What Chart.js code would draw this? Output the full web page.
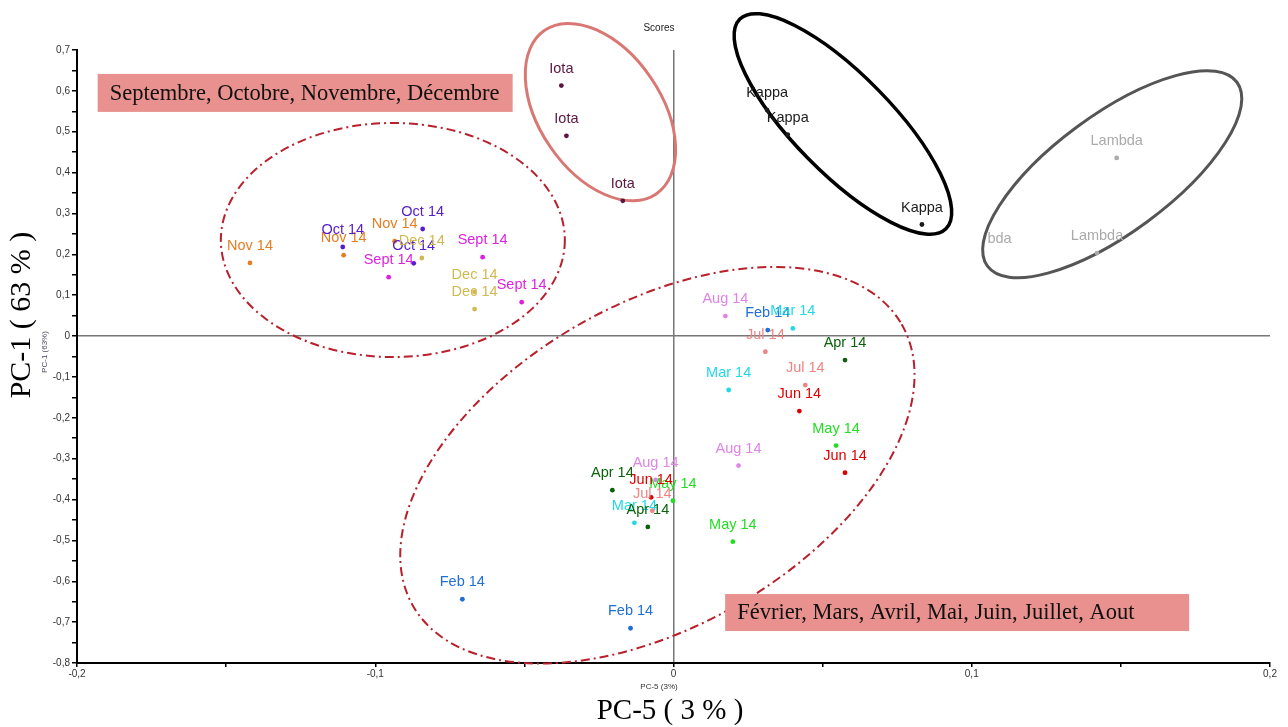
<!DOCTYPE html>
<html>
<head>
<meta charset="utf-8">
<script src="https://cdn.jsdelivr.net/npm/chart.js@4.4.1/dist/chart.umd.min.js"></script>
<style>
  body { margin: 0; background: #fff; }
  #graf { display: block; }
</style>
</head>
<body>
<canvas id="graf" width="1288" height="727"></canvas>
<script>
// scores PC-5 (x) / PC-1 (y)
const septX = [-0.0955, -0.0640, -0.0509];
const septY = [0.144, 0.193, 0.083];
const octX = [-0.1109, -0.0841, -0.0871];
const octY = [0.218, 0.262, 0.178];
const novX = [-0.142, -0.1106, -0.0935];
const novY = [0.179, 0.198, 0.232];
const decX = [-0.0844, -0.0667, -0.0667];
const decY = [0.191, 0.108, 0.066];

const febX = [0.0316, -0.0708, -0.0144];
const febY = [0.0147, -0.644, -0.715];
const marX = [0.0400, 0.0185, -0.0131];
const marY = [0.0188, -0.132, -0.457];
const aprX = [0.0575, -0.0205, -0.0086];
const aprY = [-0.0587, -0.377, -0.467];
const mayX = [0.0545, -0.0002, 0.0199];
const mayY = [-0.268, -0.403, -0.503];
const junX = [0.0422, 0.0575, -0.0075];
const junY = [-0.1835, -0.3345, -0.3947];
const julX = [0.0308, 0.0442, -0.0071];
const julY = [-0.0384, -0.120, -0.4275];
const augX = [0.0174, 0.0218, -0.0060];
const augY = [0.0489, -0.317, -0.352];

const iotaX = [-0.0376, -0.0359, -0.0170];
const iotaY = [0.613, 0.490, 0.331];
const kappaX = [0.0314, 0.0383, 0.0833];
const kappaY = [0.553, 0.493, 0.273];
const lambdaX = [0.1486, 0.142];
const lambdaY = [0.436, 0.203];

const xTicks = [-0.2, -0.1, 0, 0.1, 0.2];
const yTicks = [0.7, 0.6, 0.5, 0.4, 0.3, 0.2, 0.1, 0, -0.1, -0.2, -0.3, -0.4, -0.5, -0.6, -0.7, -0.8];

// groupes: [etiquette, x, y, couleur]
const groupes = [
  ["Nov 14", novX, novY, "#e57d22"],
  ["Oct 14", octX, octY, "#5520cc"],
  ["Dec 14", decX, decY, "#d2b850"],
  ["Sept 14", septX, septY, "#dd22dd"],
  ["Iota", iotaX, iotaY, "#5a1540"],
  ["Kappa", kappaX, kappaY, "#1a1a1a"],
  ["Lambda", lambdaX, lambdaY, "#aaaaaa"],
  ["Feb 14", febX, febY, "#1f6fd6"],
  ["Mar 14", marX, marY, "#22d8e6"],
  ["Apr 14", aprX, aprY, "#0b620b"],
  ["May 14", mayX, mayY, "#22dd22"],
  ["Jun 14", junX, junY, "#e00000"],
  ["Jul 14", julX, julY, "#ee8484"],
  ["Aug 14", augX, augY, "#e084e6"]
];

// ellipses: centre en valeurs, demi-axes en px, angle en degres
const ellipses = [
  { cx: -0.0941, cy: 0.235, a: 172, b: 117, rot: 0, color: "#b8202c", width: 2, dash: [9, 4, 2, 4] },
  { cx: -0.0054, cy: -0.316, a: 282, b: 161, rot: -30, color: "#b8202c", width: 2, dash: [9, 4, 2, 4] },
  { cx: -0.0245, cy: 0.548, a: 99, b: 61, rot: 55.7, color: "#d97873", width: 3, dash: [] },
  { cx: 0.0568, cy: 0.519, a: 147, b: 49, rot: 45.5, color: "#000000", width: 3.5, dash: [] },
  { cx: 0.1471, cy: 0.396, a: 155, b: 59, rot: -36.4, color: "#555555", width: 3, dash: [] }
];

const boites = [
  { x: -0.1235, y: 0.595, w: 415, h: 38, text: "Septembre, Octobre, Novembre, Décembre" },
  { x: 0.0951, y: -0.6765, w: 464, h: 37, text: "Février, Mars, Avril, Mai, Juin, Juillet, Aout" }
];

function virgule(v) {
  const r = Math.round(v * 10) / 10;
  if (r === 0) return "0";
  return r.toFixed(1).replace(".", ",");
}
function estMajeur(v, liste) {
  return liste.some((t) => Math.abs(t - v) < 1e-6);
}

const datasets = groupes.map(([nom, xs, ys, col]) => ({
  label: nom,
  data: xs.map((x, i) => ({ x: x, y: ys[i] })),
  backgroundColor: col,
  borderWidth: 0,
  pointRadius: 2.4,
  pointHoverRadius: 2.4
}));

/* ellipses, etiquettes et textes */
const decor = {
  id: "decor",
  beforeDatasetsDraw(chart) {
    const { ctx, scales } = chart;
    ctx.save();
    ellipses.forEach((e) => {
      const px = scales.x.getPixelForValue(e.cx);
      const py = scales.y.getPixelForValue(e.cy);
      ctx.beginPath();
      ctx.ellipse(px, py, e.a, e.b, (e.rot * Math.PI) / 180, 0, Math.PI * 2);
      ctx.strokeStyle = e.color;
      ctx.lineWidth = e.width;
      ctx.setLineDash(e.dash);
      ctx.stroke();
    });
    ctx.setLineDash([]);
    ctx.restore();
  },
  afterDatasetsDraw(chart) {
    const { ctx, scales } = chart;
    ctx.save();
    ctx.font = "14.5px 'Liberation Sans', Arial";
    ctx.textAlign = "center";
    ctx.textBaseline = "middle";
    chart.data.datasets.forEach((ds, i) => {
      const meta = chart.getDatasetMeta(i);
      meta.data.forEach((pt) => {
        ctx.fillStyle = ds.backgroundColor;
        ctx.fillText(ds.label, pt.x, pt.y - 17);
      });
    });
    // morceau d'etiquette Lambda
    ctx.fillStyle = "#aaaaaa";
    ctx.fillText("bda", scales.x.getPixelForValue(0.1093), scales.y.getPixelForValue(0.237));

    boites.forEach((b) => {
      const cx = scales.x.getPixelForValue(b.x);
      const cy = scales.y.getPixelForValue(b.y);
      ctx.fillStyle = "#e8918e";
      ctx.fillRect(cx - b.w / 2, cy - b.h / 2, b.w, b.h);
      ctx.fillStyle = "#111";
      ctx.font = "22.5px 'Liberation Serif', 'Times New Roman'";
      ctx.textAlign = "left";
      ctx.fillText(b.text, cx - b.w / 2 + 12, cy + 1);
    });
    ctx.textAlign = "center";

    // titres
    ctx.fillStyle = "#222";
    ctx.font = "10px 'Liberation Sans', Arial";
    ctx.fillText("Scores", 659, 28);
    ctx.font = "8px 'Liberation Sans', Arial";
    ctx.fillStyle = "#333";
    ctx.fillText("PC-5 (3%)", 659, 687);
    ctx.save();
    ctx.translate(45, 352);
    ctx.rotate(-Math.PI / 2);
    ctx.fillStyle = "#4a4a66";
    ctx.fillText("PC-1 (63%)", 0, 0);
    ctx.restore();

    ctx.fillStyle = "#000";
    ctx.font = "29px 'Liberation Serif', 'Times New Roman'";
    ctx.fillText("PC-5 ( 3 % )", 670, 711);
    ctx.font = "30px 'Liberation Serif', 'Times New Roman'";
    ctx.translate(22, 315);
    ctx.rotate(-Math.PI / 2);
    ctx.fillText("PC-1 ( 63 % )", 0, 0);
    ctx.restore();
  }
};

Chart.defaults.font.family = "'Liberation Sans', Arial";

new Chart(document.getElementById("graf"), {
  type: "scatter",
  data: { datasets: datasets },
  options: {
    responsive: false,
    animation: false,
    devicePixelRatio: 1,
    layout: { padding: { top: 50, right: 18, left: 0, bottom: 0 } },
    plugins: { legend: { display: false }, tooltip: { enabled: false } },
    scales: {
      x: {
        type: "linear",
        min: -0.2,
        max: 0.2,
        afterFit: (s) => { s.height = 64; },
        ticks: {
          stepSize: 0.05,
          autoSkip: false,
          maxRotation: 0,
          padding: 1,
          color: "#333",
          font: { size: 10 },
          callback: (v) => (estMajeur(v, xTicks) ? virgule(v) : "")
        },
        border: { display: true, color: "#000", width: 2 },
        grid: {
          drawOnChartArea: true,
          tickLength: 4,
          tickColor: "#000",
          tickWidth: 1.5,
          color: (c) => (c.tick && Math.abs(c.tick.value) < 1e-9 ? "#777" : "rgba(0,0,0,0)"),
          lineWidth: 1.5
        }
      },
      y: {
        type: "linear",
        min: -0.8,
        max: 0.7,
        afterFit: (s) => { s.width = 77; },
        ticks: {
          stepSize: 0.05,
          autoSkip: false,
          padding: 2,
          color: "#333",
          font: { size: 10 },
          callback: (v) => (estMajeur(v, yTicks) ? virgule(v) : "")
        },
        border: { display: true, color: "#000", width: 2 },
        grid: {
          drawOnChartArea: true,
          tickLength: 5,
          tickColor: "#000",
          tickWidth: 1.5,
          color: (c) => (c.tick && Math.abs(c.tick.value) < 1e-9 ? "#777" : "rgba(0,0,0,0)"),
          lineWidth: 1.5
        }
      }
    }
  },
  plugins: [decor]
});
</script>
</body>
</html>
